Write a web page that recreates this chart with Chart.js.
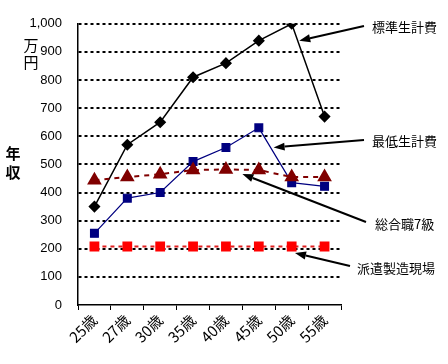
<!DOCTYPE html>
<html>
<head>
<meta charset="utf-8">
<script src="https://cdn.jsdelivr.net/npm/chart.js@4/dist/chart.umd.min.js"></script>
<style>
  html, body { margin: 0; padding: 0; background: #fff; }
  #wrap { width: 448px; height: 364px; position: relative; }
</style>
</head>
<body>
<div id="wrap"><canvas id="c" width="448" height="364"></canvas></div>
<script>
// Data (万円)
const ages = ['25歳', '27歳', '30歳', '35歳', '40歳', '45歳', '50歳', '55歳'];
const standardCost = [350, 570, 650, 810, 860, 940, 1000, 670];   // 標準生計費
const minimumCost  = [255, 380, 400, 510, 560, 630, 435, 422];    // 最低生計費
const careerGrade7 = [444, 455, 465, 480, 482, 480, 455, 455];    // 総合職7級
const dispatchWork = [208, 208, 208, 208, 208, 208, 208, 208];    // 派遣製造現場
const yTicks = [0, 100, 200, 300, 400, 500, 600, 700, 800, 900, 1000];

// callouts: label, arrow tip (category index, value), tail pixel, text pixel
const callouts = [
  { text: '標準生計費', tipX: 6.23, tipY: 940, tail: [364, 26], at: [372, 27] },
  { text: '最低生計費', tipX: 5.45, tipY: 560, tail: [364, 140], at: [372, 141] },
  { text: '総合職7級', tipX: 4.5, tipY: 466, tail: [366, 222], at: [375, 224] },
  { text: '派遣製造現場', tipX: 6.1, tipY: 185, tail: [350, 266], at: [357, 268] }
];

const jpFont = '"Noto Sans CJK JP", sans-serif';
const numFont = '"Liberation Sans", Arial, sans-serif';

const calloutPlugin = {
  id: 'callouts',
  afterDraw(chart) {
    const ctx = chart.ctx;
    const xs = chart.scales.x, ys = chart.scales.y;
    ctx.save();
    // axis titles, vertical
    ctx.fillStyle = '#000';
    ctx.textAlign = 'center';
    ctx.textBaseline = 'middle';
    ctx.font = '15px ' + jpFont;
    ctx.fillText('万', 31, 45);
    ctx.fillText('円', 31, 62);
    ctx.font = 'bold 15px ' + jpFont;
    ctx.fillText('年', 13, 153);
    ctx.fillText('収', 13, 172);

    ctx.font = '13px ' + jpFont;
    ctx.textAlign = 'left';
    callouts.forEach(c => {
      const tx = xs.getPixelForValue(c.tipX);
      const ty = ys.getPixelForValue(c.tipY);
      const [sx, sy] = c.tail;
      const ang = Math.atan2(ty - sy, tx - sx);
      const hl = 11, hw = 4;
      const bx = tx - hl * Math.cos(ang), by = ty - hl * Math.sin(ang);
      ctx.strokeStyle = '#000';
      ctx.lineWidth = 2;
      ctx.beginPath();
      ctx.moveTo(sx, sy);
      ctx.lineTo(bx, by);
      ctx.stroke();
      ctx.beginPath();
      ctx.moveTo(tx, ty);
      ctx.lineTo(bx + hw * Math.sin(ang), by - hw * Math.cos(ang));
      ctx.lineTo(bx - hw * Math.sin(ang), by + hw * Math.cos(ang));
      ctx.closePath();
      ctx.fill();
      ctx.fillText(c.text, c.at[0], c.at[1]);
    });
    ctx.restore();
  }
};

new Chart(document.getElementById('c'), {
  type: 'line',
  data: {
    labels: ages,
    datasets: [
      {
        label: '派遣製造現場', data: dispatchWork,
        borderColor: '#e02020', borderWidth: 2, borderDash: [4, 4],
        pointStyle: 'rect', pointRadius: 5.5,
        pointBackgroundColor: '#ff0000', pointBorderColor: '#ff0000'
      },
      {
        label: '総合職7級', data: careerGrade7,
        borderColor: '#800000', borderWidth: 2, borderDash: [5, 5],
        pointStyle: 'triangle', pointRadius: 6.5,
        pointBackgroundColor: '#800000', pointBorderColor: '#800000'
      },
      {
        label: '最低生計費', data: minimumCost,
        borderColor: '#000080', borderWidth: 1.2,
        pointStyle: 'rect', pointRadius: 5.5,
        pointBackgroundColor: '#000080', pointBorderColor: '#000080'
      },
      {
        label: '標準生計費', data: standardCost,
        borderColor: '#000', borderWidth: 1.5,
        pointStyle: 'rectRot', pointRadius: 5,
        pointBackgroundColor: '#000', pointBorderColor: '#000'
      }
    ]
  },
  options: {
    responsive: false,
    animation: false,
    events: [],
    layout: { padding: { left: 0, right: 107, top: 19, bottom: 0 } },
    plugins: { legend: { display: false }, tooltip: { enabled: false } },
    elements: { line: { tension: 0 } },
    scales: {
      x: {
        offset: true,
        afterFit(s) { s.height = 59; },
        grid: {
          offset: true, drawOnChartArea: false, drawTicks: true,
          tickLength: 5, color: '#000', lineWidth: 1
        },
        border: { display: true, color: '#000', width: 1.5 },
        ticks: {
          color: '#000', maxRotation: 45, minRotation: 45, padding: 1,
          font: { family: jpFont, size: 15 }
        }
      },
      y: {
        min: 0, max: 1000,
        afterFit(s) { s.width = 78; },
        afterBuildTicks(s) { s.ticks = yTicks.map(v => ({ value: v })); },
        grid: {
          drawTicks: false,
          color: c => c.tick && c.tick.value === 0 ? 'rgba(0,0,0,0)' : '#000',
          lineWidth: 2
        },
        border: { display: true, color: '#000', width: 1.5, dash: [3, 3] },
        ticks: {
          color: '#000', padding: 16,
          font: { family: numFont, size: 13 },
          callback: v => v.toLocaleString('en-US')
        }
      }
    }
  },
  plugins: [calloutPlugin]
});
</script>
</body>
</html>
